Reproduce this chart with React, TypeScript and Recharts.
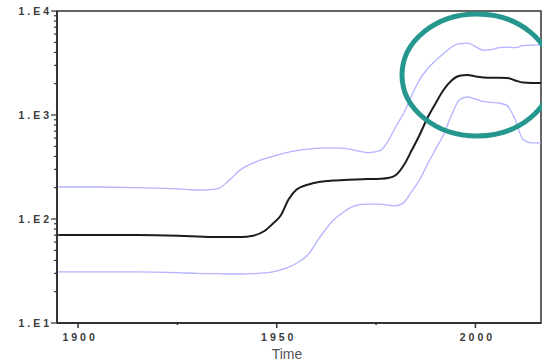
import React from 'react';
import { LineChart, Line, XAxis, YAxis, ReferenceArea } from 'recharts';

// years sampled along the curves
const years = [
  1895, 1905, 1915, 1925, 1930, 1935, 1938, 1941, 1944, 1947, 1949, 1951, 1953, 1955,
  1958, 1961, 1964, 1967, 1970, 1973, 1976, 1978, 1980, 1982, 1984, 1986, 1988, 1990,
  1992, 1994, 1996, 1998, 2000, 2002, 2004, 2006, 2008, 2010, 2012, 2014, 2016.5,
];

const median = [
  70, 70, 70, 69, 68, 67, 67, 67, 69, 77, 90, 108, 155, 192,
  215, 228, 234, 237, 240, 242, 244, 248, 265, 330, 460, 650, 950, 1300,
  1750, 2150, 2380, 2420, 2350, 2300, 2280, 2280, 2270, 2150, 2050, 2030, 2030,
];

const upper = [
  203, 203, 200, 195, 190, 195, 235, 300, 345, 380, 400, 420, 440, 455,
  470, 480, 482, 478, 455, 435, 455, 560, 780, 1050, 1550, 2200, 2800, 3350,
  3900, 4500, 4850, 4900, 4550, 4200, 4250, 4450, 4500, 4450, 4650, 4700, 4700,
];

const lower = [
  31, 31, 31, 30.5, 30, 29.8, 29.6, 29.6, 29.8, 30.3, 31, 32.5, 34.5, 37.5,
  46, 68, 95, 118, 135, 139, 139, 136, 134, 145, 185, 240, 340, 470,
  650, 1000, 1400, 1490, 1420, 1350, 1320, 1300, 1230, 900, 580, 540, 540,
];

const yTicks = [
  10, 20, 30, 40, 50, 60, 70, 80, 90,
  100, 200, 300, 400, 500, 600, 700, 800, 900,
  1000, 2000, 3000, 4000, 5000, 6000, 7000, 8000, 9000, 10000,
];
const yMajor: Record<number, string> = { 10: '1.E1', 100: '1.E2', 1000: '1.E3', 10000: '1.E4' };

const xTicks = [1900, 1925, 1950, 1975, 2000];
const xMajor = [1900, 1950, 2000];

const data = years.map((year, i) => ({
  year,
  median: median[i],
  upper: upper[i],
  lower: lower[i],
}));

const tickFont = {
  fontFamily: '"Liberation Sans", Arial, sans-serif',
  fontSize: 10.5,
  fontWeight: 700,
  letterSpacing: 3,
  fill: '#3a3a3a',
};

function YTick({ x, y, payload }: any) {
  const label = yMajor[payload.value];
  return (
    <g>
      <line x1={label ? x - 6 : x - 3} x2={x} y1={y} y2={y} stroke="#333" strokeWidth={1.2} />
      {label && (
        <text x={x - 5} y={y + 4} textAnchor="end" {...tickFont}>
          {label}
        </text>
      )}
    </g>
  );
}

function XTick({ x, y, payload }: any) {
  const major = xMajor.includes(payload.value);
  return (
    <g>
      <line x1={x} x2={x} y1={y} y2={y + (major ? 5 : 2)} stroke="#333" strokeWidth={1.5} />
      {major && (
        <text x={x + 2} y={y + 18} textAnchor="middle" {...tickFont}>
          {payload.value}
        </text>
      )}
    </g>
  );
}

function TimeLabel({ viewBox }: any) {
  return (
    <text
      x={viewBox.x + viewBox.width / 2 - 12}
      y={viewBox.y + viewBox.height - 3}
      textAnchor="middle"
      fontFamily='"Liberation Sans", Arial, sans-serif'
      fontSize={14}
      fill="#555"
    >
      Time
    </text>
  );
}

export default function App() {
  return (
    <div style={{ position: 'fixed', left: 0, top: 0, width: 542, height: 362, background: '#fff', overflow: 'hidden' }}>
      <LineChart width={542} height={362} data={data} margin={{ top: 11, right: 1, left: 0, bottom: 0 }}>
        <XAxis
          dataKey="year"
          type="number"
          domain={[1894.7, 2016.5]}
          ticks={xTicks}
          tick={<XTick />}
          tickLine={false}
          tickSize={0}
          tickMargin={0}
          height={39}
          axisLine={{ stroke: '#333', strokeWidth: 2 }}
          allowDataOverflow
          label={<TimeLabel />}
        />
        <YAxis
          scale="log"
          domain={[10, 10000]}
          ticks={yTicks}
          tick={<YTick />}
          tickLine={false}
          tickSize={0}
          tickMargin={0}
          width={57}
          interval={0}
          axisLine={{ stroke: '#333', strokeWidth: 2 }}
          allowDataOverflow
        />
        <ReferenceArea
          x1={1894.7}
          x2={2016.5}
          y1={10}
          y2={10000}
          fill="none"
          stroke="#333"
          strokeWidth={1.5}
          ifOverflow="visible"
        />
        <Line type="monotone" dataKey="upper" stroke="#b3b3ff" strokeWidth={1.3} dot={false} isAnimationActive={false} />
        <Line type="monotone" dataKey="lower" stroke="#b3b3ff" strokeWidth={1.3} dot={false} isAnimationActive={false} />
        <Line type="monotone" dataKey="median" stroke="#1c1c1c" strokeWidth={2} dot={false} isAnimationActive={false} />
      </LineChart>
      {/* highlight ring drawn over the chart */}
      <svg width={542} height={362} style={{ position: 'absolute', left: 0, top: 0, pointerEvents: 'none' }}>
        <ellipse cx={477} cy={75} rx={75} ry={61} fill="none" stroke="#25978f" strokeWidth={5} />
      </svg>
    </div>
  );
}
